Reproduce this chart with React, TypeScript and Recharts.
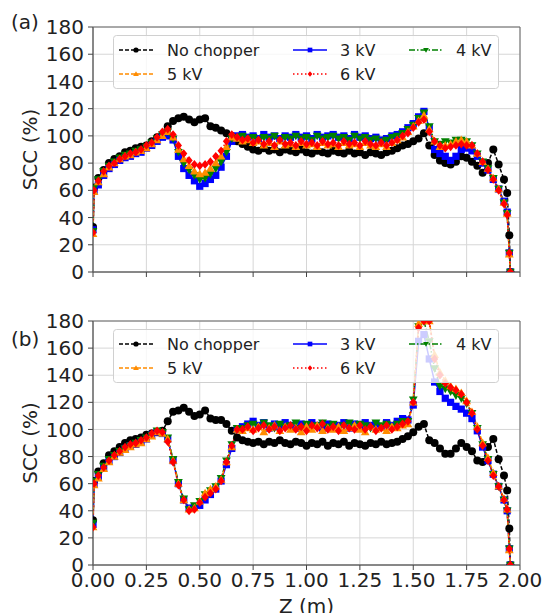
import React from 'react';
import { ComposedChart, Line, XAxis, YAxis, CartesianGrid, Legend, ReferenceArea } from 'recharts';

// axial position along the column (m)
const Z = [
  0, 0.005, 0.025, 0.05, 0.075, 0.1, 0.125, 0.15, 0.175, 0.2, 0.225, 0.25, 0.275, 0.3, 0.325, 0.35, 0.375, 0.4, 0.425,
  0.45, 0.475, 0.5, 0.525, 0.55, 0.575, 0.6, 0.625, 0.65, 0.675, 0.7, 0.725, 0.75, 0.775, 0.8, 0.825, 0.85, 0.875, 0.9,
  0.925, 0.95, 0.975, 1.0, 1.025, 1.05, 1.075, 1.1, 1.125, 1.15, 1.175, 1.2, 1.225, 1.25, 1.275, 1.3, 1.325, 1.35,
  1.375, 1.4, 1.425, 1.45, 1.475, 1.5, 1.525, 1.55, 1.575, 1.6, 1.625, 1.65, 1.675, 1.7, 1.725, 1.75, 1.775, 1.8,
  1.825, 1.85, 1.875, 1.9, 1.925, 1.94, 1.95, 1.955,
];

// panel (a)
const NOCHOP_A = [
  33, 62, 69, 75, 80, 83, 85, 88, 89, 91, 92, 93, 96, 99, 101,
  107, 111, 113, 114, 112, 110, 112, 113, 107, 106, 104, 102, 100, 96,
  94, 92, 90, 89, 91, 89, 90, 88, 90, 89, 88, 90, 88, 87, 89, 88, 87, 89, 88, 87, 89, 87, 88, 86, 88, 87, 86, 88,
  89, 91, 93, 94, 96, 98, 102, 93, 86, 82, 80, 79, 81, 85, 84, 81, 78, 73, 80, 90, 79, 68, 58, 27, 0,
];
const KV3_A = [
  31, 60, 64, 71, 76, 79, 82, 84, 85, 87, 88, 91, 93, 96, 99,
  100, 97, 85, 76, 71, 67, 63, 65, 68, 71, 77, 85, 96, 100,
  101, 99, 100, 98, 101, 99, 100, 98, 100, 99, 101, 99, 100, 98, 101, 99, 100, 101, 99, 100, 98, 101, 99, 100, 98, 99, 97, 98,
  100, 101, 103, 106, 109, 114, 118, 106, 90, 87, 85, 82, 85, 90, 91, 89, 85, 80, 75, 68, 61, 52, 44, 14, 0,
];
const KV4_A = [
  30, 62, 68, 74, 78, 81, 84, 86, 87, 89, 90, 92, 95, 98, 101,
  103, 98, 88, 80, 75, 71, 68, 69, 72, 76, 81, 88, 98, 99,
  100, 98, 99, 97, 99, 98, 100, 97, 99, 98, 100, 98, 99, 97, 100, 98, 99, 100, 98, 99, 97, 100, 98, 99, 97, 98, 96, 97,
  99, 100, 102, 105, 108, 113, 117, 107, 96, 94, 96, 95, 97, 97, 96, 93, 87, 81, 76, 69, 61, 51, 43, 14, 0,
];
const KV5_A = [
  28, 59, 66, 72, 77, 80, 83, 85, 86, 88, 89, 91, 94, 97, 100,
  103, 99, 90, 83, 78, 74, 72, 73, 76, 80, 85, 92, 99, 98,
  96, 97, 95, 96, 93, 95, 92, 96, 93, 94, 92, 95, 93, 94, 92, 95, 93, 94, 92, 95, 93, 94, 92, 95, 93, 92, 94, 92,
  95, 97, 99, 103, 107, 111, 115, 105, 96, 92, 93, 94, 96, 97, 96, 93, 87, 81, 76, 69, 61, 51, 43, 13, 0,
];
const KV6_A = [
  29, 60, 67, 74, 78, 80, 83, 85, 87, 88, 90, 93, 95, 99, 103,
  105, 101, 93, 87, 82, 79, 78, 79, 81, 85, 89, 96, 101, 99,
  97, 98, 95, 97, 94, 96, 93, 97, 94, 95, 93, 96, 94, 95, 93, 96, 94, 95, 93, 96, 94, 95, 93, 96, 94, 93, 95, 93,
  95, 97, 100, 102, 106, 110, 112, 103, 96, 93, 91, 92, 93, 94, 93, 93, 87, 81, 75, 68, 60, 50, 42, 14, 0,
];

// panel (b)
const NOCHOP_B = [
  33, 62, 69, 75, 81, 84, 87, 90, 92, 93, 94, 96, 97, 98, 99,
  106, 113, 114, 116, 113, 110, 111, 114, 108, 107, 107, 104, 99, 94,
  92, 91, 90, 91, 89, 91, 90, 92, 90, 89, 91, 90, 88, 90, 89, 91, 88, 90, 89, 91, 88, 90, 89, 88, 90, 89, 91, 89, 90, 91, 93,
  95, 98, 102, 104, 92, 90, 86, 82, 82, 86, 90, 87, 84, 77, 76, 87, 93, 78, 66, 55, 27, 0,
];
const KV3_B = [
  30, 60, 65, 72, 77, 80, 83, 86, 88, 89, 91, 93, 96, 98, 97,
  93, 77, 60, 48, 42, 43, 44, 48, 52, 56, 62, 74, 86, 100,
  102, 104, 106, 103, 105, 101, 104, 102, 105, 103, 101, 104, 102, 105, 103, 101, 104, 102, 103, 105, 101, 104, 102, 105, 103, 104, 102, 105, 103, 106, 108,
  107, 118, 165, 170, 152, 135, 128, 123, 120, 117, 115, 112, 108, 99, 87, 77, 67, 58, 48, 40, 12, 0,
];
const KV4_B = [
  31, 62, 67, 73, 78, 81, 84, 86, 88, 90, 92, 94, 96, 99, 98,
  94, 78, 61, 49, 41, 44, 47, 52, 55, 58, 64, 77, 89, 101,
  101, 103, 104, 102, 105, 103, 101, 104, 102, 103, 105, 101, 104, 102, 103, 105, 102, 104, 101, 103, 105, 102, 104, 103, 101, 105, 103, 104, 102, 104, 106,
  106, 122, 176, 180, 165, 145, 132, 130, 128, 125, 123, 119, 112, 101, 89, 78, 67, 58, 48, 40, 12, 0,
];
const KV5_B = [
  28, 59, 64, 71, 76, 80, 83, 85, 87, 89, 90, 93, 95, 98, 97,
  93, 77, 60, 48, 41, 42, 47, 53, 56, 58, 63, 76, 87, 100,
  99, 101, 100, 102, 98, 101, 103, 99, 102, 100, 101, 98, 102, 100, 103, 99, 101, 100, 102, 99, 101, 103, 100, 98, 102, 100, 101, 99, 102, 101, 103,
  104, 120, 178, 180, 180, 155, 142, 136, 132, 130, 127, 121, 113, 102, 90, 79, 68, 58, 49, 41, 11, 0,
];
const KV6_B = [
  28, 60, 66, 72, 77, 81, 84, 87, 89, 90, 92, 94, 97, 99, 98,
  91, 76, 59, 48, 40, 41, 46, 50, 53, 56, 62, 76, 88, 100,
  100, 102, 99, 101, 103, 100, 102, 99, 101, 103, 100, 102, 99, 103, 101, 104, 100, 102, 99, 103, 101, 100, 103, 100, 102, 99, 101, 103, 100, 102, 104,
  106, 120, 175, 180, 180, 152, 140, 134, 131, 129, 126, 120, 112, 100, 88, 77, 66, 58, 48, 41, 12, 0,
];

const X_TICKS = [0, 0.25, 0.5, 0.75, 1.0, 1.25, 1.5, 1.75, 2.0];
const Y_TICKS = [0, 20, 40, 60, 80, 100, 120, 140, 160, 180];

type Shape = 'circle' | 'square' | 'tri-down' | 'tri-up' | 'diamond';

const SERIES: { key: string; name: string; color: string; dash?: string; shape: Shape }[] = [
  { key: 'nc', name: 'No chopper', color: '#000000', dash: '4 2', shape: 'circle' },
  { key: 'kv3', name: '3 kV', color: '#0000ff', shape: 'square' },
  { key: 'kv4', name: '4 kV', color: '#008000', dash: '6 2 1.5 2', shape: 'tri-down' },
  { key: 'kv5', name: '5 kV', color: '#ff8c00', dash: '4 2', shape: 'tri-up' },
  { key: 'kv6', name: '6 kV', color: '#ff0000', dash: '1.5 2.5', shape: 'diamond' },
];

// matplotlib fills legend columns first: 3 columns, 2 rows
const LEGEND_ORDER = ['nc', 'kv5', 'kv3', 'kv6', 'kv4'];

const FONT = 'DejaVu Sans, Verdana, sans-serif';

const Marker = ({ shape, color, cx, cy, r }: { shape: Shape; color: string; cx: number; cy: number; r: number }) => {
  if (shape === 'circle') return <circle cx={cx} cy={cy} r={r} fill={color} />;
  if (shape === 'square') return <rect x={cx - r * 0.9} y={cy - r * 0.9} width={r * 1.8} height={r * 1.8} fill={color} />;
  if (shape === 'tri-down')
    return <polygon points={`${cx - r * 1.1},${cy - r * 0.8} ${cx + r * 1.1},${cy - r * 0.8} ${cx},${cy + r * 1.1}`} fill={color} />;
  if (shape === 'tri-up')
    return <polygon points={`${cx - r * 1.1},${cy + r * 0.8} ${cx + r * 1.1},${cy + r * 0.8} ${cx},${cy - r * 1.1}`} fill={color} />;
  return <polygon points={`${cx},${cy - r * 1.1} ${cx + r * 0.9},${cy} ${cx},${cy + r * 1.1} ${cx - r * 0.9},${cy}`} fill={color} />;
};

const makeDot = (shape: Shape, color: string) => (p: any) => {
  if (p.cx == null || p.cy == null) return <g key={p.index} />;
  return <Marker key={p.index} shape={shape} color={color} cx={p.cx} cy={p.cy} r={4} />;
};

const LegendBox = () => {
  const handleX = [6, 180, 296];
  const textX = [54, 227, 343];
  const rowY = [15, 39];
  return (
    <svg width={386} height={54} style={{ display: 'block' }}>
      <rect x={0.5} y={0.5} width={385} height={53} rx={3} fill="#ffffff" fillOpacity={0.8} stroke="#d0d0d0" />
      {LEGEND_ORDER.map((key, i) => {
        const s = SERIES.find((d) => d.key === key)!;
        const col = Math.floor(i / 2);
        const row = i % 2;
        const y = rowY[row];
        const x0 = handleX[col];
        return (
          <g key={key}>
            <line x1={x0} y1={y} x2={x0 + 34} y2={y} stroke={s.color} strokeWidth={1.5} strokeDasharray={s.dash} />
            <Marker shape={s.shape} color={s.color} cx={x0 + 17} cy={y} r={2.6} />
            <text x={textX[col]} y={y + 5.8} fontSize={16} fontFamily={FONT} fill="#222">
              {s.name}
            </text>
          </g>
        );
      })}
    </svg>
  );
};

const yLabel = (props: any) => {
  const vb = props.viewBox || {};
  const cy = (vb.y ?? 0) + (vb.height ?? 0) / 2;
  return (
    <text
      x={30}
      y={cy}
      transform={`rotate(-90, 30, ${cy})`}
      textAnchor="middle"
      dominantBaseline="central"
      fontSize={20}
      fontFamily={FONT}
      fill="#222"
    >
      SCC (%)
    </text>
  );
};

interface PanelProps {
  values: Record<string, number[]>;
  height: number;
  marginTop: number;
  xAxisHeight: number;
  showXLabels: boolean;
}

const Panel = ({ values, height, marginTop, xAxisHeight, showXLabels }: PanelProps) => {
  const data = Z.map((z, i) => {
    const row: Record<string, number> = { z };
    SERIES.forEach((s) => {
      row[s.key] = values[s.key][i];
    });
    return row;
  });
  const tickStyle = { fontSize: 20, fill: '#222', fontFamily: FONT };
  return (
    <ComposedChart width={545} height={height} data={data} margin={{ top: marginTop, right: 25, bottom: 0, left: 0 }}>
      <CartesianGrid stroke="#d6d6d6" strokeWidth={1} />
      <XAxis
        dataKey="z"
        type="number"
        domain={[0, 2]}
        ticks={X_TICKS}
        interval={0}
        allowDataOverflow
        height={xAxisHeight}
        tickSize={5}
        tickMargin={3}
        tickLine={{ stroke: '#444' }}
        axisLine={{ stroke: '#666' }}
        tick={tickStyle}
        tickFormatter={(v: number) => (showXLabels ? v.toFixed(2) : '')}
        label={showXLabels ? { value: 'Z (m)', position: 'insideBottom', offset: 0, fontSize: 20, fill: '#222', fontFamily: FONT } : undefined}
      />
      <YAxis
        type="number"
        domain={[0, 180]}
        ticks={Y_TICKS}
        interval={0}
        allowDataOverflow
        width={93}
        tickSize={5}
        tickMargin={4}
        tickLine={{ stroke: '#444' }}
        axisLine={{ stroke: '#666' }}
        tick={tickStyle}
        label={{ content: yLabel }}
      />
      {SERIES.map((s) => (
        <Line
          key={s.key}
          dataKey={s.key}
          name={s.name}
          type="linear"
          stroke={s.color}
          strokeWidth={1.5}
          strokeDasharray={s.dash}
          dot={makeDot(s.shape, s.color)}
          activeDot={false}
          isAnimationActive={false}
        />
      ))}
      <ReferenceArea x1={0} x2={2} y1={0} y2={180} fill="none" stroke="#666" strokeWidth={1} />
      <Legend
        layout="horizontal"
        verticalAlign="middle"
        align="center"
        content={() => <LegendBox />}
        wrapperStyle={{ left: 113, top: marginTop + 8, width: 386, height: 54 }}
      />
    </ComposedChart>
  );
};

const panelLabel = (top: number): React.CSSProperties => ({
  position: 'absolute',
  left: 11,
  top,
  fontSize: 20,
  fontFamily: FONT,
  color: '#222',
  lineHeight: 'normal',
});

export default function App() {
  return (
    <div style={{ position: 'absolute', left: 0, top: 0, width: 545, height: 613, background: '#fff', overflow: 'hidden' }}>
      <div style={{ position: 'absolute', left: 0, top: 0 }}>
        <Panel
          values={{ nc: NOCHOP_A, kv3: KV3_A, kv4: KV4_A, kv5: KV5_A, kv6: KV6_A }}
          height={300}
          marginTop={27}
          xAxisHeight={28}
          showXLabels={false}
        />
      </div>
      <div style={{ position: 'absolute', left: 0, top: 300 }}>
        <Panel
          values={{ nc: NOCHOP_B, kv3: KV3_B, kv4: KV4_B, kv5: KV5_B, kv6: KV6_B }}
          height={313}
          marginTop={21}
          xAxisHeight={48}
          showXLabels
        />
      </div>
      <div style={panelLabel(10)}>(a)</div>
      <div style={panelLabel(327)}>(b)</div>
    </div>
  );
}
